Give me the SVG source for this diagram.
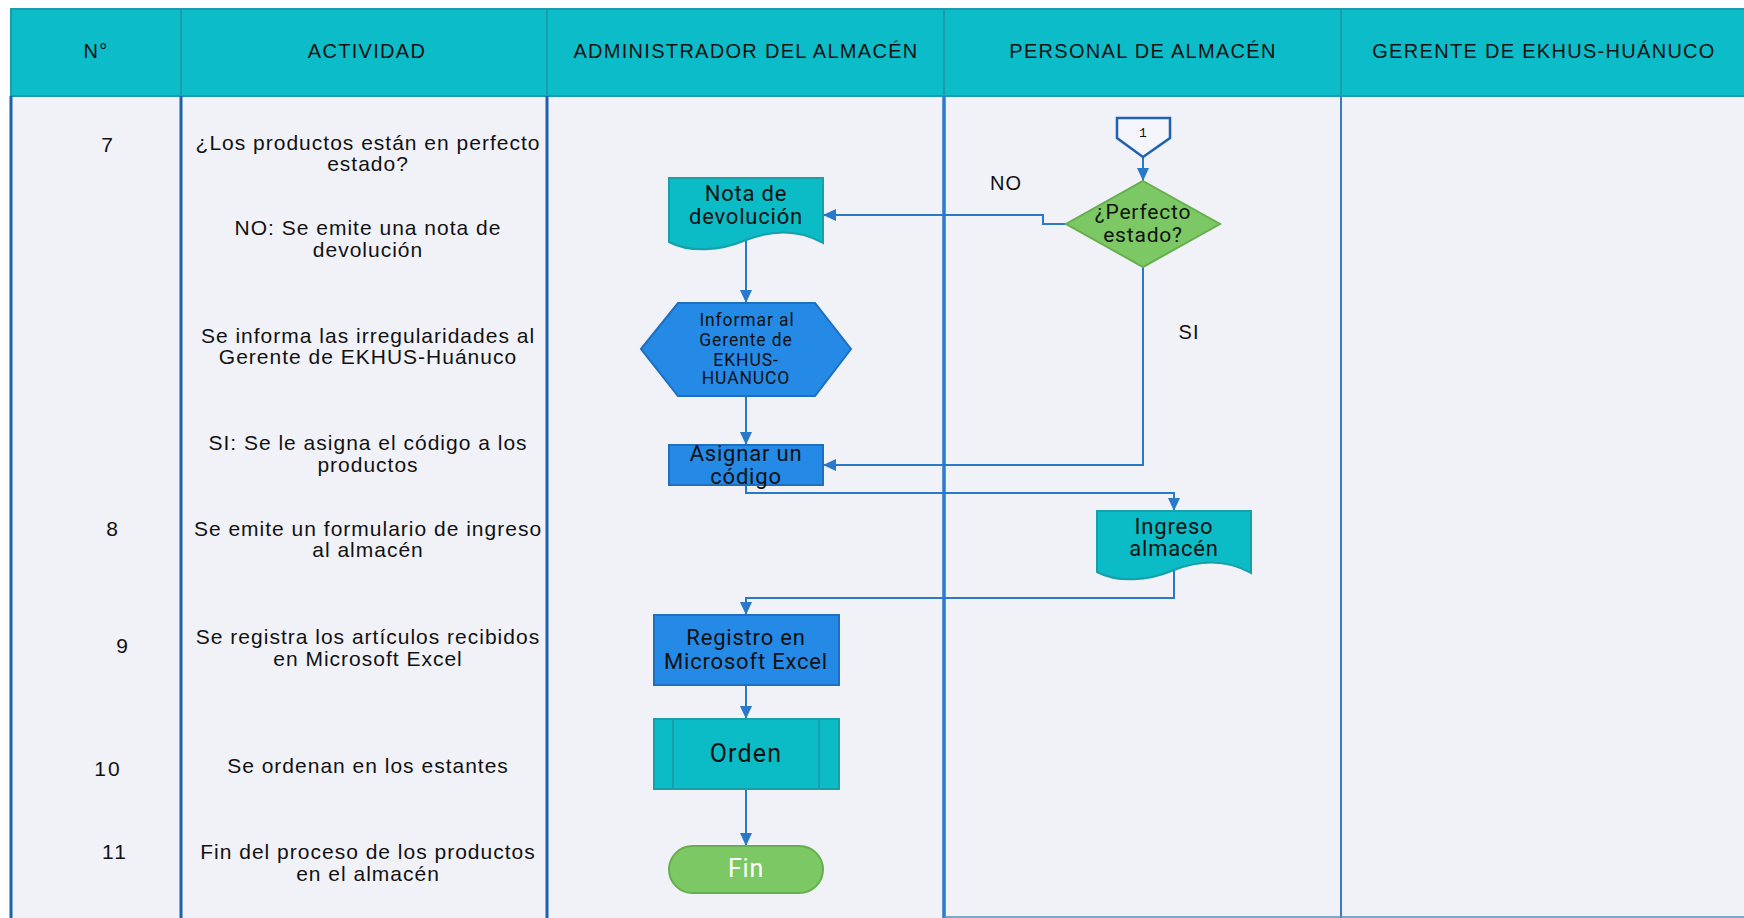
<svg xmlns="http://www.w3.org/2000/svg" width="1744" height="918" viewBox="0 0 1744 918">
  <style>
    .hd { font-family: "Liberation Sans", Arial, sans-serif; font-size: 20px; letter-spacing: 1.3px; fill: #111; text-anchor: middle; }
    .act { font-family: "Liberation Sans", Arial, sans-serif; font-size: 21px; letter-spacing: 1px; fill: #111; text-anchor: middle; }
    .num { font-family: "Liberation Sans", Arial, sans-serif; font-size: 21px; letter-spacing: 2px; fill: #111; text-anchor: middle; }
    .nd { font-family: Roboto, "Liberation Sans", sans-serif; font-size: 22px; letter-spacing: 0.8px; fill: #111; text-anchor: middle; }
    .nds { font-family: Roboto, "Liberation Sans", sans-serif; font-size: 17.5px; letter-spacing: 0.9px; fill: #111; text-anchor: middle; }
    .teal { fill: #0BBBC5; stroke: #179FAA; stroke-width: 2; }
    .blue { fill: #2589E6; stroke: #1F6FC0; stroke-width: 2; }
    .green { fill: #7CC864; stroke: #67AE4E; stroke-width: 2; }
    .conn { fill: none; stroke: #2A78C8; stroke-width: 2; }
    .hdline { stroke: #1A9DAA; stroke-width: 2; }
    .lane { stroke: #1F62AC; stroke-width: 3; }
  </style>
  <defs>
    <marker id="arr" markerUnits="userSpaceOnUse" markerWidth="14" markerHeight="14" viewBox="0 0 14 14" refX="13" refY="7" orient="auto">
      <path d="M0,1 L13,7 L0,13 Z" fill="#2A78C8"/>
    </marker>
  </defs>

  <!-- page and swimlane table -->
  <rect x="0" y="0" width="1744" height="918" fill="#FFFFFF"/>
  <rect x="11" y="96" width="1733" height="822" fill="#F1F2F8"/>
  <g id="table">
    <rect x="11" y="9" width="1740" height="87" fill="#0CBCC8" stroke="#1A9DAA" stroke-width="2"/>
    <line class="hdline" x1="181" y1="9" x2="181" y2="96"/>
    <line class="hdline" x1="547" y1="9" x2="547" y2="96"/>
    <line class="hdline" x1="944" y1="9" x2="944" y2="96"/>
    <line class="hdline" x1="1341" y1="9" x2="1341" y2="96"/>
    <line class="lane" x1="11" y1="96" x2="11" y2="918"/>
    <line class="lane" x1="181" y1="96" x2="181" y2="918"/>
    <line class="lane" x1="547" y1="96" x2="547" y2="918"/>
    <line x1="944" y1="96" x2="944" y2="918" stroke="#2B7BD0" stroke-width="3.5"/>
    <line x1="1341" y1="96" x2="1341" y2="918" stroke="#3A7CC4" stroke-width="2"/>
    <line x1="944" y1="917" x2="1744" y2="917" stroke="#5B8CC0" stroke-width="1.5"/>
    <text class="hd" x="96" y="58">N°</text>
    <text class="hd" x="367" y="58">ACTIVIDAD</text>
    <text class="hd" x="746" y="58">ADMINISTRADOR DEL ALMACÉN</text>
    <text class="hd" x="1143" y="58">PERSONAL DE ALMACÉN</text>
    <text class="hd" x="1544" y="58">GERENTE DE EKHUS-HUÁNUCO</text>
  </g>

  <!-- step numbers and activity descriptions -->
  <g id="activities">
    <text class="num" x="108" y="152">7</text>
    <text class="act" x="368" y="150">¿Los productos están en perfecto</text>
    <text class="act" x="368" y="171">estado?</text>
    <text class="act" x="368" y="235">NO: Se emite una nota de</text>
    <text class="act" x="368" y="257">devolución</text>
    <text class="act" x="368" y="343">Se informa las irregularidades al</text>
    <text class="act" x="368" y="364">Gerente de EKHUS-Huánuco</text>
    <text class="act" x="368" y="450">SI: Se le asigna el código a los</text>
    <text class="act" x="368" y="472">productos</text>
    <text class="num" x="113" y="536">8</text>
    <text class="act" x="368" y="536">Se emite un formulario de ingreso</text>
    <text class="act" x="368" y="557">al almacén</text>
    <text class="num" x="123" y="653">9</text>
    <text class="act" x="368" y="644">Se registra los artículos recibidos</text>
    <text class="act" x="368" y="666">en Microsoft Excel</text>
    <text class="num" x="108" y="776">10</text>
    <text class="act" x="368" y="773">Se ordenan en los estantes</text>
    <text class="num" x="115" y="859">11</text>
    <text class="act" x="368" y="859">Fin del proceso de los productos</text>
    <text class="act" x="368" y="881">en el almacén</text>
  </g>

  <!-- connectors -->
  <g id="connectors">
    <path class="conn" d="M1143,157 V181" marker-end="url(#arr)"/>
    <path class="conn" d="M1066,224 H1043 V215 H823" marker-end="url(#arr)"/>
    <path class="conn" d="M746,240 V303" marker-end="url(#arr)"/>
    <path class="conn" d="M746,396 V445" marker-end="url(#arr)"/>
    <path class="conn" d="M1143,267 V465 H823" marker-end="url(#arr)"/>
    <path class="conn" d="M746,485 V493 H1174 V511" marker-end="url(#arr)"/>
    <path class="conn" d="M1174,570 V598 H746 V615" marker-end="url(#arr)"/>
    <path class="conn" d="M746,685 V719" marker-end="url(#arr)"/>
    <path class="conn" d="M746,789 V846" marker-end="url(#arr)"/>
    <text class="hd" x="1006" y="190" style="letter-spacing:1px">NO</text>
    <text class="hd" x="1189" y="339" style="letter-spacing:1px">SI</text>
  </g>

  <!-- flowchart nodes -->
  <g id="offpage-1">
    <path d="M1117,118 H1170 V138 L1143,157 L1117,138 Z" fill="#F4F5FA" stroke="#1F62B0" stroke-width="2.5"/>
    <text x="1143" y="137" font-family="'Liberation Mono', monospace" font-size="13" fill="#111" text-anchor="middle">1</text>
  </g>
  <g id="decision-perfecto">
    <path class="green" d="M1143,181 L1220,224 L1143,267 L1066,224 Z"/>
    <text class="nd" x="1143" y="219" style="font-size:21px">¿Perfecto</text>
    <text class="nd" x="1143" y="242" style="font-size:21px">estado?</text>
  </g>
  <g id="doc-nota">
    <path class="teal" d="M669,178 H823 V243 C800,230 775,229 746,240 C720,251 690,253 669,242 Z"/>
    <text class="nd" x="746" y="201">Nota de</text>
    <text class="nd" x="746" y="224">devolución</text>
  </g>
  <g id="hex-informar">
    <path class="blue" d="M641,349 L678,303 H815 L851,349 L815,396 H678 Z"/>
    <text class="nds" x="747" y="326">Informar al</text>
    <text class="nds" x="746" y="346">Gerente de</text>
    <text class="nds" x="746" y="366">EKHUS-</text>
    <text class="nds" x="746" y="384">HUANUCO</text>
  </g>
  <g id="proc-asignar">
    <rect class="blue" x="669" y="445" width="154" height="40"/>
    <text class="nd" x="746" y="461">Asignar un</text>
    <text class="nd" x="746" y="484">código</text>
  </g>
  <g id="doc-ingreso">
    <path class="teal" d="M1097,511 H1251 V573 C1228,560 1203,559 1174,570 C1148,581 1118,583 1097,572 Z"/>
    <text class="nd" x="1174" y="534">Ingreso</text>
    <text class="nd" x="1174" y="556">almacén</text>
  </g>
  <g id="proc-registro">
    <rect class="blue" x="654" y="615" width="185" height="70"/>
    <text class="nd" x="746" y="645">Registro en</text>
    <text class="nd" x="746" y="669">Microsoft Excel</text>
  </g>
  <g id="subproc-orden">
    <rect class="teal" x="654" y="719" width="185" height="70"/>
    <line x1="673" y1="719" x2="673" y2="789" stroke="#179FAA" stroke-width="2"/>
    <line x1="819" y1="719" x2="819" y2="789" stroke="#179FAA" stroke-width="2"/>
    <text class="nd" x="746" y="762" style="font-size:25px;letter-spacing:1.2px">Orden</text>
  </g>
  <g id="term-fin">
    <rect class="green" x="669" y="846" width="154" height="47" rx="23.5"/>
    <text class="nd" x="746" y="877" style="font-size:25px;fill:#FFFFFF">Fin</text>
  </g>
</svg>
